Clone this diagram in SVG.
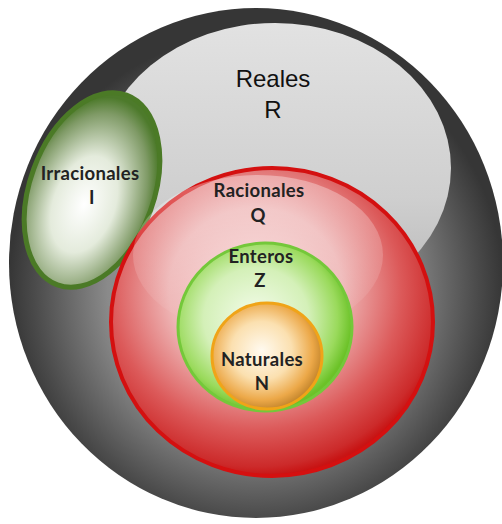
<svg xmlns="http://www.w3.org/2000/svg" width="502" height="524" viewBox="0 0 502 524">
<defs>
<radialGradient id="gOuter" cx="0.5" cy="0.55" r="0.5">
<stop offset="0" stop-color="#a8a8a8"/>
<stop offset="0.6" stop-color="#8a8a8a"/>
<stop offset="0.9" stop-color="#4a4a4a"/>
<stop offset="1" stop-color="#363636"/>
</radialGradient>
<linearGradient id="gOuterHi" x1="0" y1="0" x2="0" y2="1">
<stop offset="0" stop-color="#e2e2e2"/>
<stop offset="0.6" stop-color="#cfcfcf"/>
<stop offset="1" stop-color="#b4b4b4"/>
</linearGradient>
<radialGradient id="gGreenE" cx="0.48" cy="0.58" r="0.55">
<stop offset="0" stop-color="#ffffff"/>
<stop offset="0.45" stop-color="#e4ebdc"/>
<stop offset="0.85" stop-color="#7f9a66"/>
<stop offset="1" stop-color="#4d7a2b"/>
</radialGradient>
<radialGradient id="gRed" cx="0.45" cy="0.4" r="0.6">
<stop offset="0" stop-color="#f8d8d8"/>
<stop offset="0.45" stop-color="#eeb4b4"/>
<stop offset="0.75" stop-color="#dc5a5a"/>
<stop offset="0.95" stop-color="#cc2a2a"/>
<stop offset="1" stop-color="#c81414"/>
</radialGradient>
<linearGradient id="gRedHi" x1="0" y1="0" x2="0" y2="1">
<stop offset="0" stop-color="#ffffff" stop-opacity="0.35"/>
<stop offset="1" stop-color="#ffffff" stop-opacity="0"/>
</linearGradient>
<radialGradient id="gGreenC" cx="0.45" cy="0.45" r="0.55">
<stop offset="0" stop-color="#f4fcec"/>
<stop offset="0.55" stop-color="#d4f0b8"/>
<stop offset="0.85" stop-color="#9ada5c"/>
<stop offset="1" stop-color="#6cc228"/>
</radialGradient>
<radialGradient id="gOrange" cx="0.45" cy="0.45" r="0.55">
<stop offset="0" stop-color="#fffaf0"/>
<stop offset="0.5" stop-color="#fbe0b0"/>
<stop offset="0.85" stop-color="#eca848"/>
<stop offset="1" stop-color="#c98a30"/>
</radialGradient>
</defs>
<style>
.lbl{font-family:Lato,"Open Sans","Liberation Sans",sans-serif;font-weight:bold;font-size:18.5px;letter-spacing:0.3px;fill:#222;text-anchor:middle}
.big{font-family:"Liberation Sans",Arial,sans-serif;font-size:24px;fill:#111;text-anchor:middle}
</style>
<g id="reales">
<ellipse cx="256" cy="263" rx="247" ry="255" fill="url(#gOuter)"/>
<ellipse cx="275" cy="168" rx="176" ry="145" fill="url(#gOuterHi)"/>
<text class="big" x="273" y="87">Reales</text>
<text class="big" x="273" y="118">R</text>
</g>
<g id="irracionales">
<ellipse cx="92" cy="190" rx="62" ry="101" transform="rotate(20 92 190)" fill="url(#gGreenE)" stroke="#4b7a26" stroke-width="5"/>
<text class="lbl" x="90" y="180">Irracionales</text>
<text class="lbl" x="92" y="204">I</text>
</g>
<g id="racionales">
<ellipse cx="272" cy="322" rx="161" ry="154" fill="url(#gRed)" stroke="#d41010" stroke-width="4"/>
<ellipse cx="258" cy="255" rx="125" ry="80" fill="url(#gRedHi)"/>
<text class="lbl" x="259" y="197">Racionales</text>
<text class="lbl" x="258" y="222">Q</text>
</g>
<g id="enteros">
<ellipse cx="265" cy="327" rx="87" ry="84" fill="url(#gGreenC)" stroke="#74c83a" stroke-width="3"/>
<text class="lbl" x="261" y="263">Enteros</text>
<text class="lbl" x="260" y="287">Z</text>
</g>
<g id="naturales">
<ellipse cx="267" cy="356" rx="55" ry="53" fill="url(#gOrange)" stroke="#f0a418" stroke-width="3"/>
<text class="lbl" x="262" y="366">Naturales</text>
<text class="lbl" x="262" y="390">N</text>
</g>
</svg>
